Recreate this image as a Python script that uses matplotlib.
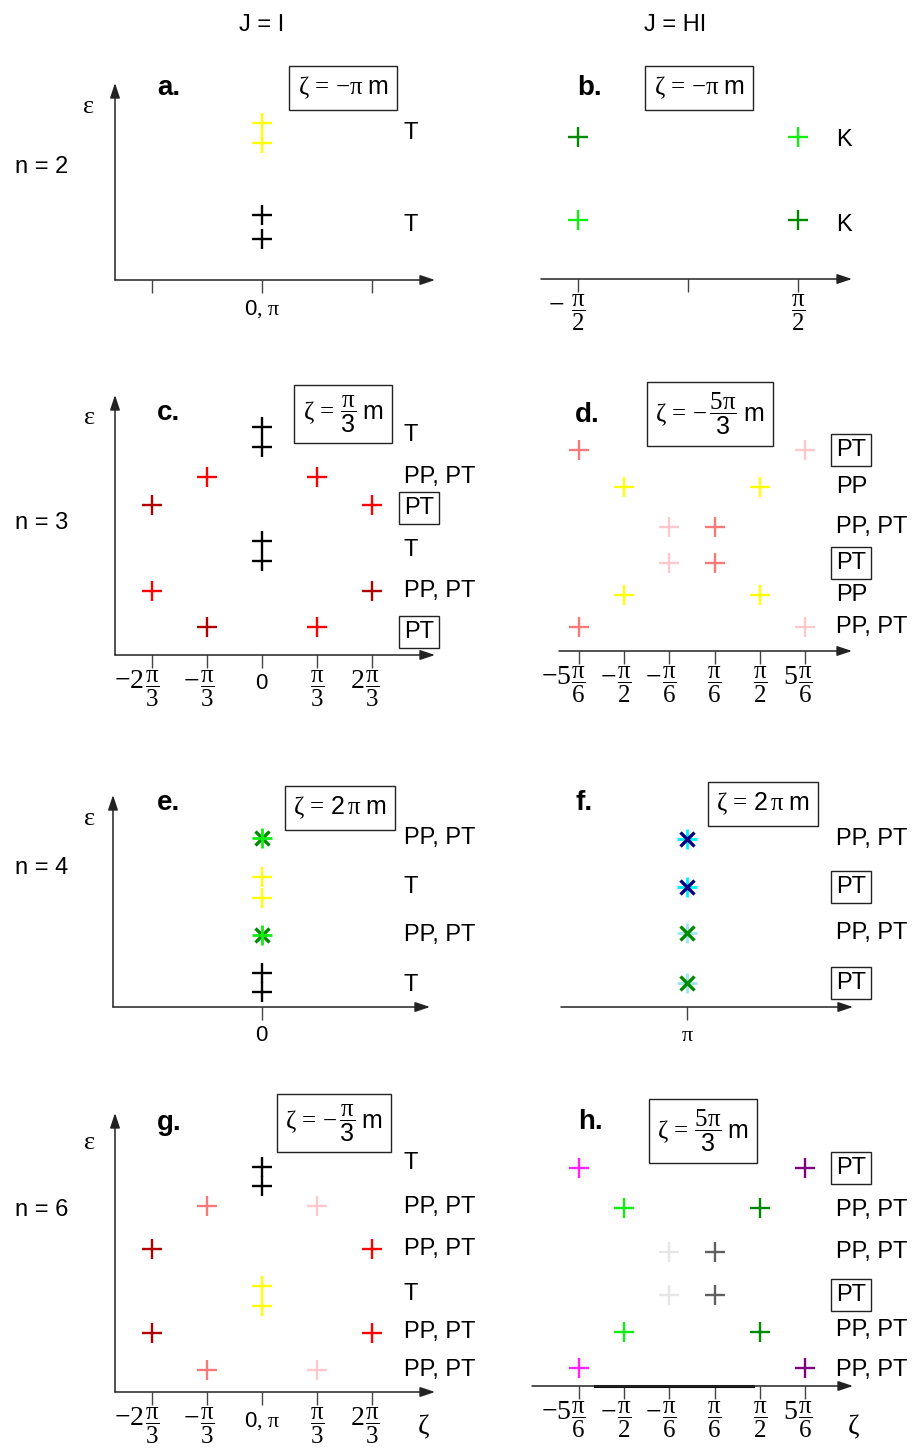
import matplotlib.pyplot as plt
from matplotlib import transforms

plt.rcParams['font.family'] = ['Liberation Sans', 'DejaVu Sans']
plt.rcParams['mathtext.fontset'] = 'custom'
plt.rcParams['mathtext.rm'] = 'Liberation Serif'
plt.rcParams['mathtext.it'] = 'Liberation Serif:italic'
plt.rcParams['mathtext.sf'] = 'Liberation Sans'

W, H = 917, 1452

# level colours
BLACK = '#000000'
YELLOW = '#ffff00'
RED = '#ff0000'
DKRED = '#b00000'
SALMON = '#f77a7a'
PINK = '#ffc8cc'
LIME = '#11ee11'
GREEN = '#008a00'
CYAN = '#00f0ff'
NAVY = '#000080'
LTBLUE = '#9ee6f0'
MAGENTA = '#ff22ff'
PURPLE = '#800080'
LTGRAY = '#e6e6e6'
GRAY = '#606060'

# zeta in units of pi, eps in arbitrary units above the zeta axis
# kind: '+' plus, 'p' small plus and 'x' cross (the two together make an asterisk)
a_zeta = [0, 0, 0, 0]
a_eps = [15.7, 13.7, 6.5, 4.1]
a_kind = ['+', '+', '+', '+']
a_color = [YELLOW, YELLOW, BLACK, BLACK]
a_lab_eps = [14.7, 5.5]
a_lab = ['T', 'T']
a_lab_box = [False, False]

b_zeta = [-1/2, 1/2, -1/2, 1/2]
b_eps = [14.2, 14.2, 5.9, 5.9]
b_kind = ['+', '+', '+', '+']
b_color = [GREEN, LIME, LIME, GREEN]
b_lab_eps = [13.9, 5.4]
b_lab = ['K', 'K']
b_lab_box = [False, False]

c_zeta = [0, 0, -1/3, 1/3, -2/3, 2/3, 0, 0, -2/3, 2/3, -1/3, 1/3]
c_eps = [22.8, 20.8, 17.8, 17.8, 15.0, 15.0, 11.4, 9.4, 6.4, 6.4, 2.8, 2.8]
c_kind = ['+'] * 12
c_color = [BLACK, BLACK, RED, RED, DKRED, RED, BLACK, BLACK, RED, DKRED, DKRED, RED]
c_lab_eps = [22.0, 17.8, 14.7, 10.5, 6.4, 2.3]
c_lab = ['T', 'PP, PT', 'PT', 'T', 'PP, PT', 'PT']
c_lab_box = [False, False, True, False, False, True]

d_zeta = [-5/6, 5/6, -1/2, 1/2, -1/6, 1/6, -1/6, 1/6, -1/2, 1/2, -5/6, 5/6]
d_eps = [20.1, 20.1, 16.4, 16.4, 12.4, 12.4, 8.8, 8.8, 5.6, 5.6, 2.4, 2.4]
d_kind = ['+'] * 12
d_color = [SALMON, PINK, YELLOW, YELLOW, PINK, SALMON, PINK, SALMON, YELLOW, YELLOW, SALMON, PINK]
d_lab_eps = [20.1, 16.4, 12.4, 8.8, 5.6, 2.4]
d_lab = ['PT', 'PP', 'PP, PT', 'PT', 'PP', 'PP, PT']
d_lab_box = [True, False, False, True, False, False]

e_zeta = [0] * 8
e_eps = [16.9, 16.9, 13.0, 10.9, 7.2, 7.2, 3.4, 1.5]
e_kind = ['x', 'p', '+', '+', 'x', 'p', '+', '+']
e_color = [GREEN, LIME, YELLOW, YELLOW, GREEN, LIME, BLACK, BLACK]
e_lab_eps = [16.9, 12.0, 7.2, 2.2]
e_lab = ['PP, PT', 'T', 'PP, PT', 'T']
e_lab_box = [False, False, False, False]

f_zeta = [1] * 8
f_eps = [16.8, 16.8, 12.0, 12.0, 7.4, 7.4, 2.4, 2.4]
f_kind = ['p', 'x', 'p', 'x', 'p', 'x', 'p', 'x']
f_color = [CYAN, NAVY, CYAN, NAVY, LTBLUE, GREEN, LTBLUE, GREEN]
f_lab_eps = [16.8, 12.0, 7.4, 2.4]
f_lab = ['PP, PT', 'PT', 'PP, PT', 'PT']
f_lab_box = [False, True, False, True]

g_zeta = [0, 0, -1/3, 1/3, -2/3, 2/3, 0, 0, -2/3, 2/3, -1/3, 1/3]
g_eps = [22.5, 20.6, 18.6, 18.6, 14.3, 14.3, 10.6, 8.6, 5.9, 5.9, 2.2, 2.2]
g_kind = ['+'] * 12
g_color = [BLACK, BLACK, SALMON, PINK, DKRED, RED, YELLOW, YELLOW, DKRED, RED, SALMON, PINK]
g_lab_eps = [22.9, 18.5, 14.3, 9.8, 6.0, 2.2]
g_lab = ['T', 'PP, PT', 'PP, PT', 'T', 'PP, PT', 'PP, PT']
g_lab_box = [False] * 6

h_zeta = [-5/6, 5/6, -1/2, 1/2, -1/6, 1/6, -1/6, 1/6, -1/2, 1/2, -5/6, 5/6]
h_eps = [21.8, 21.8, 17.8, 17.8, 13.4, 13.4, 9.1, 9.1, 5.4, 5.4, 1.8, 1.8]
h_kind = ['+'] * 12
h_color = [MAGENTA, PURPLE, LIME, GREEN, LTGRAY, GRAY, LTGRAY, GRAY, LIME, GREEN, MAGENTA, PURPLE]
h_lab_eps = [21.8, 17.6, 13.4, 9.1, 5.6, 1.6]
h_lab = ['PT', 'PP, PT', 'PP, PT', 'PT', 'PP, PT', 'PP, PT']
h_lab_box = [True, False, False, True, False, False]
h_axis_overlay = [-0.71, 0.45]

PI = r'\mathrm{\pi}'

# tick positions (units of pi); a label is plain text or a (prefix, denominator) pair for prefix*pi/den
thirds = [-2/3, -1/3, 0, 1/3, 2/3]
thirds_lab = [('-2', '3'), ('-', '3'), r'$\mathsf{0}$', ('', '3'), ('2', '3')]
sixths = [-5/6, -1/2, -1/6, 1/6, 1/2, 5/6]
sixths_lab = [('-5', '6'), ('-', '2'), ('-', '6'), ('', '6'), ('', '2'), ('5', '6')]
zero_pi = r'$\mathsf{0},\,%s$' % PI

ZETA = r'\mathrm{\zeta}\,=\,'
box_a = r'$%s{-}%s\;\mathsf{m}$' % (ZETA, PI)
box_c = r'$%s\dfrac{%s}{\mathsf{3}}\;\mathsf{m}$' % (ZETA, PI)
box_d = r'$%s{-}\,\dfrac{5%s}{\mathsf{3}}\;\mathsf{m}$' % (ZETA, PI)
box_e = r'$%s\mathsf{2}\,%s\;\mathsf{m}$' % (ZETA, PI)
box_g = r'$%s{-}\,\dfrac{%s}{\mathsf{3}}\;\mathsf{m}$' % (ZETA, PI)
box_h = r'$%s\dfrac{5%s}{\mathsf{3}}\;\mathsf{m}$' % (ZETA, PI)

panels = [
    dict(letter='a.', rect=(115, 435, 83, 280), x0=262, scale=165, yaxis=True, lab_x=404,
         zeta=a_zeta, eps=a_eps, kind=a_kind, color=a_color,
         lab_eps=a_lab_eps, lab=a_lab, lab_box=a_lab_box,
         ticks=[-2/3, 0, 2/3], ticklabels=['', zero_pi, ''],
         letter_xy=(157, 88), box_xy=(343, 88), box=box_a, eps_xy=(88, 106)),
    dict(letter='b.', rect=(541, 852, 83, 279), x0=688, scale=220, yaxis=False, lab_x=836,
         zeta=b_zeta, eps=b_eps, kind=b_kind, color=b_color,
         lab_eps=b_lab_eps, lab=b_lab, lab_box=b_lab_box,
         ticks=[-1/2, 0, 1/2], ticklabels=[('-', '2'), '', ('', '2')], pre_gap=10,
         letter_xy=(577, 88), box_xy=(699, 88), box=box_a, eps_xy=None),
    dict(letter='c.', rect=(115, 435, 395, 655), x0=262, scale=165, yaxis=True, lab_x=404,
         zeta=c_zeta, eps=c_eps, kind=c_kind, color=c_color,
         lab_eps=c_lab_eps, lab=c_lab, lab_box=c_lab_box,
         ticks=thirds, ticklabels=thirds_lab,
         letter_xy=(157, 413), box_xy=(343, 414), box=box_c, eps_xy=(89, 417)),
    dict(letter='d.', rect=(559, 852, 395, 651), x0=692, scale=136, yaxis=False, lab_x=836,
         zeta=d_zeta, eps=d_eps, kind=d_kind, color=d_color,
         lab_eps=d_lab_eps, lab=d_lab, lab_box=d_lab_box,
         ticks=sixths, ticklabels=sixths_lab,
         letter_xy=(575, 415), box_xy=(710, 414), box=box_d, eps_xy=None),
    dict(letter='e.', rect=(113, 430, 795, 1007), x0=262, scale=165, yaxis=True, lab_x=404,
         zeta=e_zeta, eps=e_eps, kind=e_kind, color=e_color,
         lab_eps=e_lab_eps, lab=e_lab, lab_box=e_lab_box,
         ticks=[0], ticklabels=[r'$\mathsf{0}$'],
         letter_xy=(157, 803), box_xy=(340, 808), box=box_e, eps_xy=(89, 818)),
    dict(letter='f.', rect=(561, 853, 795, 1007), x0=522, scale=165, yaxis=False, lab_x=836,
         zeta=f_zeta, eps=f_eps, kind=f_kind, color=f_color,
         lab_eps=f_lab_eps, lab=f_lab, lab_box=f_lab_box,
         ticks=[1], ticklabels=[r'$%s$' % PI],
         letter_xy=(575, 803), box_xy=(763, 804), box=box_e, eps_xy=None),
    dict(letter='g.', rect=(115, 435, 1113, 1392), x0=262, scale=165, yaxis=True, lab_x=404,
         zeta=g_zeta, eps=g_eps, kind=g_kind, color=g_color,
         lab_eps=g_lab_eps, lab=g_lab, lab_box=g_lab_box,
         ticks=thirds, ticklabels=thirds_lab[:2] + [zero_pi] + thirds_lab[3:],
         letter_xy=(157, 1123), box_xy=(334, 1123), box=box_g, eps_xy=(89, 1142)),
    dict(letter='h.', rect=(532, 853, 1113, 1386), x0=692, scale=136, yaxis=False, lab_x=836,
         zeta=h_zeta, eps=h_eps, kind=h_kind, color=h_color,
         lab_eps=h_lab_eps, lab=h_lab, lab_box=h_lab_box,
         ticks=sixths, ticklabels=sixths_lab,
         letter_xy=(578, 1122), box_xy=(703, 1131), box=box_h, eps_xy=None),
]

MARKER = {'+': dict(marker='+', ms=15, mew=1.7),
          'p': dict(marker='+', ms=14, mew=2.0),
          'x': dict(marker='x', ms=9.5, mew=2.4)}


def fig_xy(x, y):
    return x / W, 1 - y / H


fig = plt.figure(figsize=(W / 100, H / 100), dpi=100)


def tick_label(ax, t, lab, pre_gap):
    anchor = dict(xy=(t, 0), xycoords=('data', 'axes fraction'), textcoords='offset points',
                  annotation_clip=False)
    if isinstance(lab, str):
        ax.annotate(lab, xytext=(0, -13), ha='center', va='top', fontsize=16, **anchor)
        return
    pre, den = lab
    # fraction centred on the tick, prefix sitting on the fraction bar to its left
    ax.annotate(r'$\dfrac{%s}{%s}$' % (PI, den), xytext=(0, -28), ha='center', va='baseline',
                fontsize=18, **anchor)
    if pre:
        ax.annotate(r'$%s$' % pre, xytext=(-pre_gap, -23.5), ha='right', va='baseline',
                    fontsize=20, **anchor)


def draw_panel(p):
    left, right, top, bottom = p['rect']
    ax = fig.add_axes([left / W, 1 - bottom / H, (right - left) / W, (bottom - top) / H])
    ax.set_xlim((left - p['x0']) / p['scale'], (right - p['x0']) / p['scale'])
    ax.set_ylim(0, (bottom - top) / 10)
    ax.patch.set_visible(False)
    for s in ax.spines.values():
        s.set_visible(False)
    ax.set_yticks([])
    ax.set_xticks(p['ticks'])
    ax.set_xticklabels([])
    ax.tick_params(axis='x', direction='out', length=9, width=1, color='#444')
    for t, lab in zip(p['ticks'], p['ticklabels']):
        tick_label(ax, t, lab, p.get('pre_gap', 5.5))

    arrow = dict(arrowstyle='-|>,head_length=0.9,head_width=0.3', mutation_scale=10,
                 lw=1.1, color='#222', shrinkA=0, shrinkB=0)
    ax.annotate('', xy=(1, 0), xytext=(0, 0), xycoords='axes fraction',
                arrowprops=arrow, annotation_clip=False)
    if p['yaxis']:
        ax.annotate('', xy=(0, 1), xytext=(0, 0), xycoords='axes fraction',
                    arrowprops=arrow, annotation_clip=False)

    for z, e, k, c in zip(p['zeta'], p['eps'], p['kind'], p['color']):
        ax.plot(z, e, ls='none', color=c, clip_on=False, **MARKER[k])

    tr = transforms.blended_transform_factory(fig.transFigure, ax.transData)
    for e, t, b in zip(p['lab_eps'], p['lab'], p['lab_box']):
        box = dict(boxstyle='square,pad=0.2', fc='none', ec='#222', lw=1) if b else None
        ax.text(p['lab_x'] / W, e, t, transform=tr, fontsize=17, ha='left', va='center', bbox=box)

    fig.text(*fig_xy(*p['letter_xy']), p['letter'], fontsize=20, fontweight='bold',
             ha='left', va='center')
    fig.text(*fig_xy(*p['box_xy']), p['box'], fontsize=18, ha='center', va='center',
             bbox=dict(boxstyle='square,pad=0.33', fc='none', ec='#222', lw=1))
    if p['eps_xy'] is not None:
        fig.text(*fig_xy(*p['eps_xy']), r'$\mathrm{\varepsilon}$', fontsize=19,
                 ha='center', va='center')
    return ax


axes = [draw_panel(p) for p in panels]

# thicker stretch on the zeta axis of panel h
axes[7].plot(h_axis_overlay, [0, 0], color='#111', lw=2.2, clip_on=False)

fig.text(*fig_xy(262, 25), 'J = I', fontsize=17, ha='center', va='center')
fig.text(*fig_xy(675, 25), 'J = HI', fontsize=17, ha='center', va='center')
for label, y in zip(['n = 2', 'n = 3', 'n = 4', 'n = 6'], [167, 523, 868, 1210]):
    fig.text(*fig_xy(42, y), label, fontsize=17, ha='center', va='center')
fig.text(*fig_xy(423, 1427), r'$\mathrm{\zeta}$', fontsize=20, ha='center', va='center')
fig.text(*fig_xy(853, 1427), r'$\mathrm{\zeta}$', fontsize=20, ha='center', va='center')

fig.savefig('out.png', dpi=100)
